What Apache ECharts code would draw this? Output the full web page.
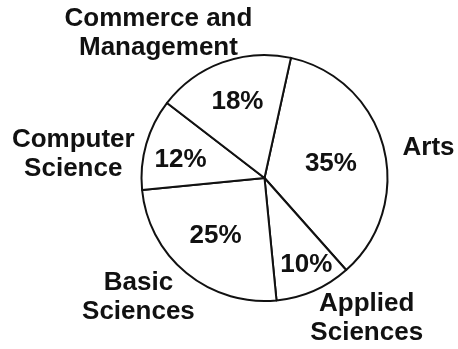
<!DOCTYPE html>
<html>
<head>
<meta charset="utf-8">
<script src="https://cdn.jsdelivr.net/npm/echarts@6/dist/echarts.min.js"></script>
<style>
  html, body { margin: 0; padding: 0; background: #fff; }
  #chart { width: 458px; height: 349px; }
</style>
</head>
<body>
<div id="chart"></div>
<script>
// 各类别 (顺时针, 从 Arts 开始)
const categories = ['Arts', 'Applied\nSciences', 'Basic\nSciences', 'Computer\nScience', 'Commerce and\nManagement']
// 百分比
const shares = [35, 10, 25, 12, 18]

// 标签偏移 (相对于默认位置)
const pctOffsets = [[4, 2], [16, 28], [-8, 8], [-22, 0], [-5, -16]]
const nameOffsets = [[45, 1], [53, 28], [-48, 24], [-73, 10], [-64, -29]]

const chart = echarts.init(document.getElementById('chart'), null, { renderer: 'canvas' })

const pieData = categories.map((name, i) => ({ name: name, value: shares[i] }))
const textFont = {
  fontFamily: '"Liberation Sans", Arial, sans-serif',
  fontWeight: 'bold',
  fontSize: 26,
  color: '#111'
}

const option = {
  backgroundColor: '#fff',
  animation: false,
  series: [
    {
      // 饼图本体 + 百分比
      type: 'pie',
      center: [264.5, 178],
      radius: 123,
      startAngle: 77.6,
      clockwise: true,
      avoidLabelOverlap: false,
      data: pieData,
      itemStyle: { color: '#fff', borderColor: '#111', borderWidth: 2 },
      emphasis: { disabled: true },
      label: Object.assign({ show: true, position: 'inside', formatter: '{c}%' }, textFont),
      labelLine: { show: false },
      labelLayout: params => ({
        dx: pctOffsets[params.dataIndex][0],
        dy: pctOffsets[params.dataIndex][1],
        align: 'center',
        verticalAlign: 'middle'
      })
    },
    {
      // 外部类别名称 (透明饼图)
      type: 'pie',
      center: [264.5, 178],
      radius: 123,
      startAngle: 77.6,
      clockwise: true,
      avoidLabelOverlap: false,
      silent: true,
      z: 1,
      data: pieData,
      itemStyle: { color: 'transparent', borderWidth: 0 },
      emphasis: { disabled: true },
      label: Object.assign({
        show: true,
        position: 'outside',
        formatter: '{b}',
        lineHeight: 29,
        align: 'center',
        distanceToLabelLine: 0
      }, textFont),
      labelLine: { show: false, length: 0, length2: 0 },
      labelLayout: params => ({
        dx: nameOffsets[params.dataIndex][0],
        dy: nameOffsets[params.dataIndex][1],
        align: 'center',
        verticalAlign: 'middle'
      })
    }
  ]
}
chart.setOption(option)
</script>
</body>
</html>
